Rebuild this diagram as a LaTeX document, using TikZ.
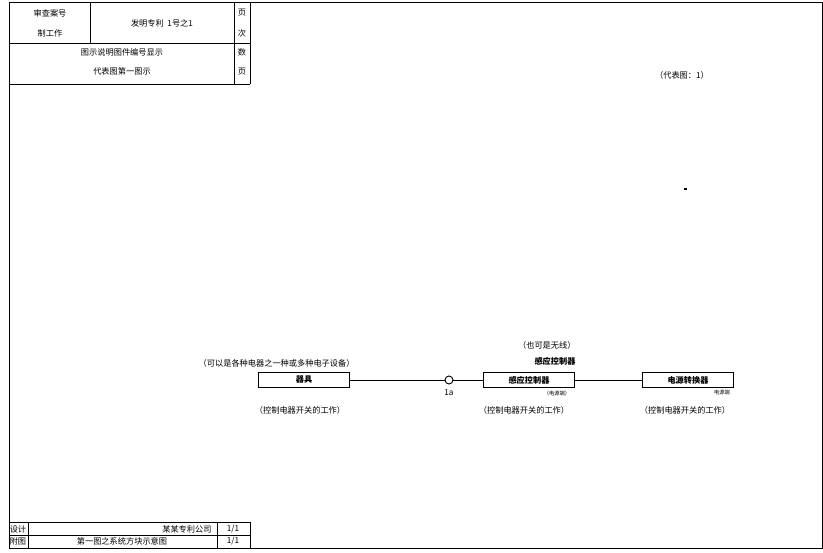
\documentclass[tikz,border=0pt]{standalone}
\usepackage{fontspec}
\newfontfamily\cjk{Noto Sans CJK SC}
\usetikzlibrary{positioning}

\begin{document}
\begin{tikzpicture}[x=0.3mm,y=-0.3mm,line width=0.8pt,
	txt/.style={font=\cjk\fontsize{7}{8}\selectfont,inner sep=0pt},
	tiny/.style={font=\cjk\fontsize{4.5}{5}\selectfont,inner sep=0pt},
	unitbox/.style={draw,line width=1pt,minimum width=27.5mm,minimum height=4.4mm,inner sep=0pt,font=\cjk\bfseries\fontsize{7}{8}\selectfont},
	joint/.style={draw,circle,fill=white,inner sep=0pt,minimum size=2.4mm}]
			\useasboundingbox (0,0) rectangle (823,553);
			% frame
			\draw (9,2) rectangle (822,548);
			% title block, top
			\draw (9,43) -- (250,43);
			\draw (9,84) -- (250,84);
			\draw (250,2) -- (250,84);
			\draw (90,2) -- (90,43);
			\draw (234,2) -- (234,84);
			\node[txt] (h1) at (50,13) {审查案号};
			\node[txt] (h2) at (50,33) {制工作};
			\node[txt] (h3) at (162,23) {发明专利\ \ 1号之1};
			\node[txt] (h4) at (242,13) {页};
			\node[txt] (h5) at (242,33) {次};
			\node[txt] (h6) at (122,52) {图示说明图件编号显示};
			\node[txt] (h7) at (122,71) {代表图第一图示};
			\node[txt] (h8) at (242,52) {数};
			\node[txt] (h9) at (242,72) {页};
			% title block, bottom
			\draw (9,522) -- (250,522);
			\draw (9,535) -- (250,535);
			\draw (250,522) -- (250,548);
			\draw (28,522) -- (28,548);
			\draw (217,522) -- (217,548);
			\node[txt] (b1) at (18,529) {设计};
			\node[txt,anchor=east] (b2) at (212,529) {某某专利公司};
			\node[txt] (b3) at (233,529) {1/1};
			\node[txt] (b4) at (18,541) {附图};
			\node[txt] (b5) at (122,541) {第一图之系统方块示意图};
			\node[txt] (b6) at (233,541) {1/1};
			% notes
			\node[txt] (n1) at (682,75) {（代表图：1）};
			\fill (684,188) rectangle (687,190);
			% diagram
			\node[unitbox] (dev) at (304,380) {器具};
			\node[joint] (j) at (449,380) {};
			\node[unitbox] (ctrl) at (529,380) {感应控制器};
			\node[unitbox] (pwr) at (688,380) {电源转换器};
			\draw (dev) -- (j) -- (ctrl);
			\draw (ctrl) -- (pwr);
			\node[txt,anchor=east] (l1) at (355,363) {（可以是各种电器之一种或多种电子设备）};
			\node[txt] (l2) at (300,410) {（控制电器开关的工作）};
			\node[txt,anchor=east] (l3) at (576,345) {（也可是无线）};
			\node[txt,anchor=east,font=\cjk\bfseries\fontsize{7}{8}\selectfont] (l4) at (576,361) {感应控制器};
			\node[txt] (l5) at (524,410) {（控制电器开关的工作）};
			\node[txt] (l6) at (685,410) {（控制电器开关的工作）};
			\node[tiny] (t1) at (557,393) {（电源端）};
			\node[tiny] (t2) at (722,393) {电源端};
			\node[txt] (t3) at (449,393) {1a};
		\end{tikzpicture}
\end{document}
